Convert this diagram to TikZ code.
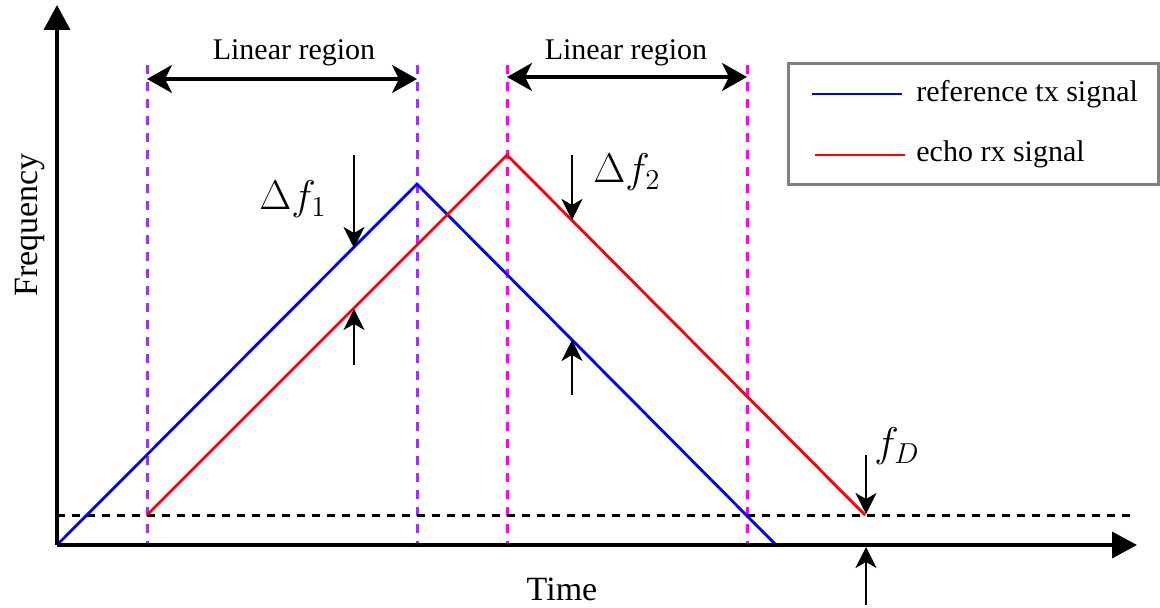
\documentclass[tikz,border=0pt]{standalone}
\usepackage{fontspec}
\setmainfont{Liberation Serif}
\usetikzlibrary{arrows.meta}
\definecolor{vpurple}{RGB}{153,51,255}
\definecolor{vmagenta}{RGB}{255,0,255}
\definecolor{legendgray}{RGB}{128,128,128}
\begin{document}
\begin{tikzpicture}[x=0.5pt,y=-0.5pt,
  axis/.style={line width=1.8pt,-{Triangle[length=12.5pt,width=13pt]}},
  txsig/.style={line width=1.4pt,blue},
  rxsig/.style={line width=1.4pt,red},
  vdash/.style={line width=1.5pt,dash pattern=on 4.5pt off 4pt},
  hdash/.style={line width=1.5pt,dash pattern=on 4pt off 3.5pt},
  region/.style={line width=1.7pt,{Stealth[length=12.5pt,width=14pt,inset=3.5pt]}-{Stealth[length=12.5pt,width=14pt,inset=3.5pt]}},
  darr/.style={line width=1.2pt,-{Stealth[length=10.5pt,width=10.5pt,inset=3pt]}},
  lbl/.style={inner sep=0pt,font=\fontsize{15}{18}\selectfont},
  axlbl/.style={inner sep=0pt,font=\fontsize{17}{20}\selectfont},
  mlbl/.style={inner sep=0pt,font=\fontsize{20}{24}\selectfont},
  legbox/.style={draw=legendgray,line width=1.5pt}
]
\useasboundingbox (0,0) rectangle (1160,608);

% key points
\coordinate (O) at (57,545);
\coordinate (Ytop) at (57,5);
\coordinate (Xend) at (1137,545);
\coordinate (B0) at (57,545);
\coordinate (B1) at (417,184);
\coordinate (B2) at (776,545);
\coordinate (R0) at (147,515);
\coordinate (R1) at (507,155);
\coordinate (R2) at (865,515);
\coordinate (H0) at (57,515);
\coordinate (H1) at (1130,515);

% vertical dashed guides
\foreach \n/\x/\c in {1/147/vpurple,2/417/vpurple,3/507/vmagenta,4/747/vmagenta}{
  \coordinate (V\n t) at (\x,65);
  \coordinate (V\n b) at (\x,545);
  \draw[vdash,\c] (V\n t) -- (V\n b);
}

% horizontal dashed line
\draw[hdash] (H0) -- (H1);

% signals
\draw[txsig,line join=miter] (B0) -- (B1) -- (B2);
\draw[rxsig,line join=miter] (R0) -- (R1) -- (R2);

% axes
\draw[axis] (O) -- (Ytop);
\draw[axis] (O) -- (Xend);

% linear region arrows
\coordinate (L1a) at (147,79);
\coordinate (L1b) at (417,79);
\coordinate (L2a) at (507,77);
\coordinate (L2b) at (747,77);
\draw[region] (L1a) -- (L1b);
\draw[region] (L2a) -- (L2b);
\node[lbl,anchor=base] (lr1) at (294,60) {Linear region};
\node[lbl,anchor=base] (lr2) at (626,60) {Linear region};

% delta f1
\coordinate (D1a) at (354,155);
\coordinate (D1b) at (354,248);
\coordinate (D1c) at (354,365);
\coordinate (D1d) at (354,309);
\draw[darr] (D1a) -- (D1b);
\draw[darr] (D1c) -- (D1d);
\node[mlbl,anchor=base] (df1) at (293,210) {$\Delta f_1$};

% delta f2
\coordinate (D2a) at (572,155);
\coordinate (D2b) at (572,220);
\coordinate (D2c) at (572,395);
\coordinate (D2d) at (572,340);
\draw[darr] (D2a) -- (D2b);
\draw[darr] (D2c) -- (D2d);
\node[mlbl,anchor=base] (df2) at (627,183) {$\Delta f_2$};

% f_D
\coordinate (FDa) at (866,455);
\coordinate (FDb) at (866,514);
\coordinate (FDc) at (866,605);
\coordinate (FDd) at (866,547);
\draw[darr] (FDa) -- (FDb);
\draw[darr] (FDc) -- (FDd);
\node[mlbl,anchor=base] (fd) at (897,457) {$f_D$};

% axis labels
\node[axlbl,anchor=base,rotate=90] (freq) at (37,225) {Frequency};
\node[axlbl,anchor=base] (time) at (562,600) {Time};

% legend
\draw[legbox] (788,64) rectangle (1158,185);
\coordinate (LGb0) at (812,94);
\coordinate (LGb1) at (902,94);
\coordinate (LGr0) at (815,155);
\coordinate (LGr1) at (905,155);
\draw[txsig] (LGb0) -- (LGb1);
\draw[rxsig] (LGr0) -- (LGr1);
\node[lbl,anchor=base west] (legtx) at (916,102) {reference tx signal};
\node[lbl,anchor=base west] (legrx) at (916,162) {echo rx signal};
\end{tikzpicture}
\end{document}
